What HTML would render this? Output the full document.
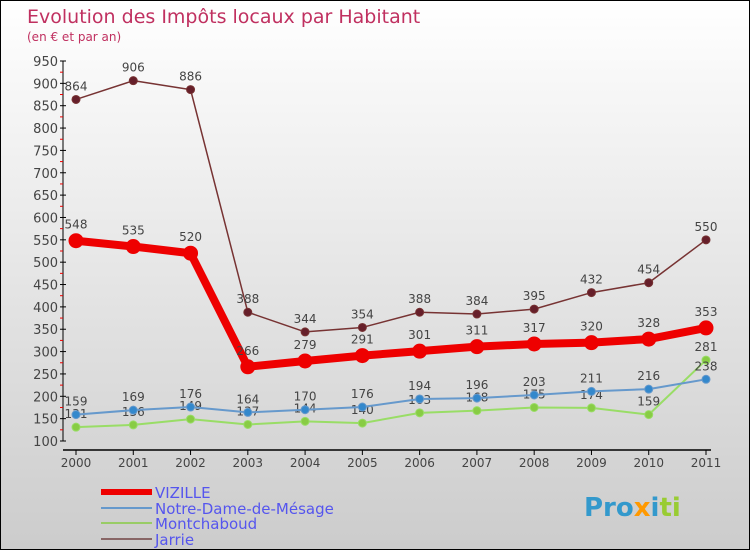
<!DOCTYPE html>
<html><head><meta charset="utf-8"><style>
body{margin:0}
#c{position:relative;width:748px;height:548px;border:1px solid #000;background:linear-gradient(#ffffff,#cccccc);overflow:hidden;font-family:"DejaVu Sans","Liberation Sans",sans-serif}
</style></head><body>
<div id="c">
<svg id="s" width="748" height="548">
<text x="26" y="22" font-size="19" fill="#c03060">Evolution des Impôts locaux par Habitant</text>
<text x="26" y="40" font-size="12" fill="#c03060">(en € et par an)</text>
<g id="axes"></g><g id="series"></g>
<g font-size="15" fill="#5555ee">
<line x1="100" y1="491" x2="151" y2="491" stroke="#ee0000" stroke-width="6"/>
<text x="154" y="497">VIZILLE</text>
<line x1="100" y1="507" x2="151" y2="507" stroke="#6699cc" stroke-width="2"/>
<text x="154" y="513">Notre-Dame-de-Mésage</text>
<line x1="100" y1="522" x2="151" y2="522" stroke="#99cc66" stroke-width="2"/>
<text x="154" y="528">Montchaboud</text>
<line x1="100" y1="538" x2="151" y2="538" stroke="#886666" stroke-width="2"/>
<text x="154" y="544">Jarrie</text>
</g>
<text x="583" y="515" font-size="26" font-weight="bold"><tspan fill="#3399cc">Pro</tspan><tspan fill="#ff9900">x</tspan><tspan fill="#3399cc">i</tspan><tspan fill="#99cc33">ti</tspan></text>
</svg>
</div>
<script>
const years=["2000","2001","2002","2003","2004","2005","2006","2007","2008","2009","2010","2011"];
const vizille=[548,535,520,266,279,291,301,311,317,320,328,353];
const notreDame=[159,169,176,164,170,176,194,196,203,211,216,238];
const montchaboud=[131,136,149,137,144,140,163,168,175,174,159,281];
const jarrie=[864,906,886,388,344,354,388,384,395,432,454,550];
const yTicks=[100,150,200,250,300,350,400,450,500,550,600,650,700,750,800,850,900,950];
const NS="http://www.w3.org/2000/svg";
const x=i=>75+i*(630/11);
const y=v=>440-(v-100)*(380/850);
function mk(tag,attrs,parent){const e=document.createElementNS(NS,tag);for(const k in attrs)e.setAttribute(k,attrs[k]);parent.appendChild(e);return e;}
const ax=document.getElementById('axes');
let a=mk('line',{x1:62,y1:y(950),x2:62,y2:y(100),stroke:'#000'},ax);


a=mk('line',{x1:62,y1:449,x2:710,y2:449,stroke:'#000','stroke-width':1.5},ax);


yTicks.forEach(v=>{
  mk('line',{x1:59,y1:y(v),x2:65,y2:y(v),stroke:'#000'},ax);
  if(v<950)mk('line',{x1:59,y1:y(v+25),x2:62,y2:y(v+25),stroke:'#e00'},ax);
  const t=mk('text',{x:57,y:y(v)+5,'text-anchor':'end','font-size':13,fill:'#444'},ax);
  t.textContent=v;
  
  
});
years.forEach((yr,i)=>{
  mk('line',{x1:x(i),y1:449,x2:x(i),y2:454,stroke:'#000'},ax);
  const t=mk('text',{x:x(i),y:466,'text-anchor':'middle','font-size':12,fill:'#444'},ax);
  t.textContent=yr;
  
  
});
const sg=document.getElementById('series');
function series(name,data,color,w,r,fill){
  const g=mk('g',{},sg);
  
  
  const p=mk('polyline',{points:data.map((v,i)=>x(i)+','+y(v)).join(' '),fill:'none',stroke:color,'stroke-width':w,'stroke-linejoin':'round'},g);
  
  
  data.forEach((v,i)=>{
    const c=mk('circle',{cx:x(i),cy:y(v),r:r,fill:fill,stroke:color,'stroke-width':1},g);
    
    
    const t=mk('text',{x:x(i),y:y(v)-r-5,'text-anchor':'middle','font-size':12,fill:'#444'},g);
    t.textContent=v;
    
    
  });
}
series('jarrie',jarrie,'#773333',1.5,4,'#661f2a');
series('montchaboud',montchaboud,'#99dd66',2,4,'#88cc44');
series('notre-dame',notreDame,'#6699cc',2,4,'#3388cc');
series('vizille',vizille,'#ee0000',8,7,'#ee0000');
</script>
</body></html>
